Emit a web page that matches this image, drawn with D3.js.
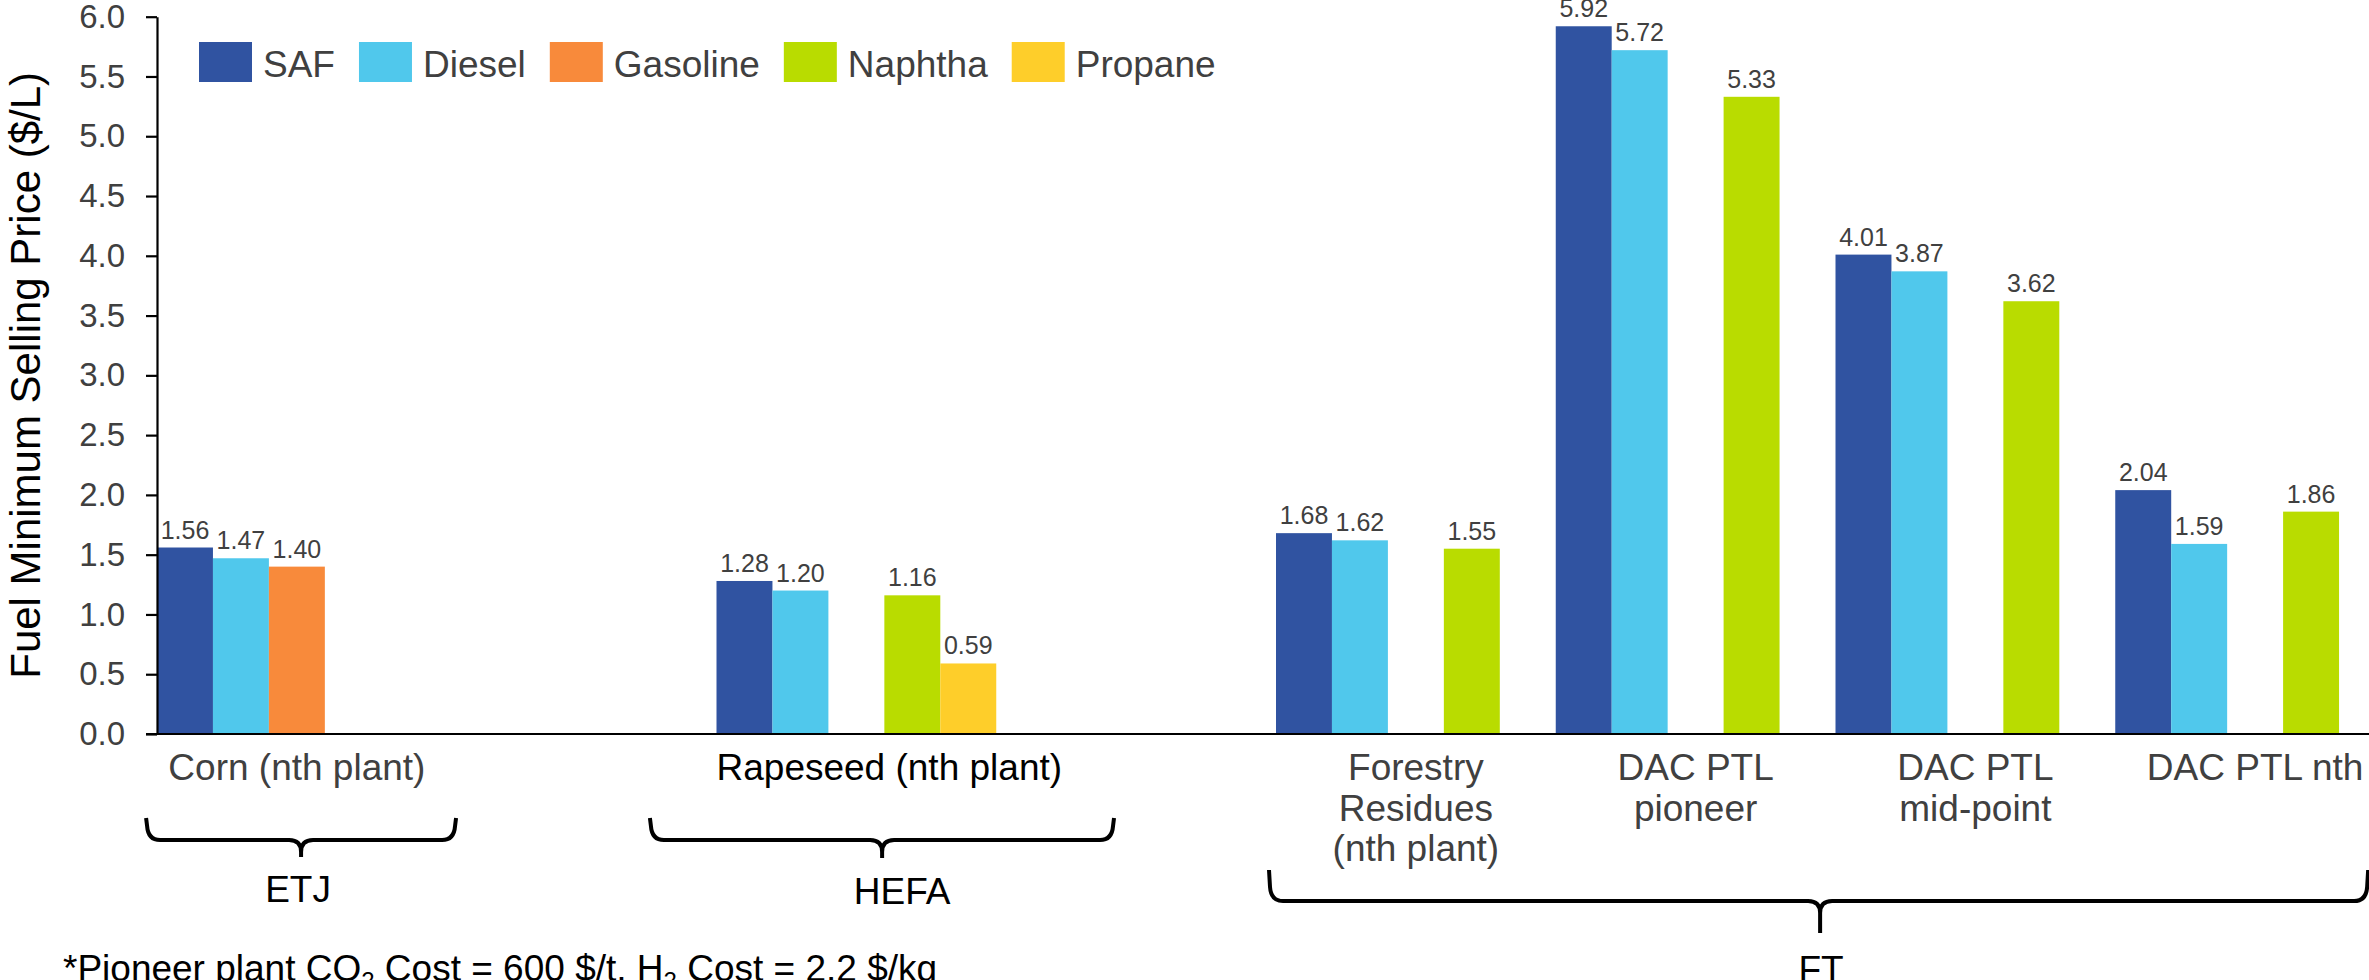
<!DOCTYPE html>
<html>
<head>
<meta charset="utf-8">
<script src="https://cdn.jsdelivr.net/npm/d3@7"></script>
<style>
  html, body { margin: 0; padding: 0; background: #fff; overflow: hidden; }
  svg { display: block; font-family: Arial, "Liberation Sans", sans-serif; }
</style>
</head>
<body>
<svg id="chart" width="2369" height="980"></svg>
<script>
// ---- data ----
const categories = ["Corn (nth plant)", "spacer-1", "Rapeseed (nth plant)", "spacer-2",
  "Forestry Residues (nth plant)", "DAC PTL pioneer", "DAC PTL mid-point", "DAC PTL nth"];
const categoryLines = [["Corn (nth plant)"], [], ["Rapeseed (nth plant)"], [],
  ["Forestry", "Residues", "(nth plant)"], ["DAC PTL", "pioneer"], ["DAC PTL", "mid-point"], ["DAC PTL nth"]];
const seriesNames = ["SAF", "Diesel", "Gasoline", "Naphtha", "Propane"];
const safValues      = [1.56, null, 1.28, null, 1.68, 5.92, 4.01, 2.04];
const dieselValues   = [1.47, null, 1.20, null, 1.62, 5.72, 3.87, 1.59];
const gasolineValues = [1.40, null, null, null, null, null, null, null];
const naphthaValues  = [null, null, 1.16, null, 1.55, 5.33, 3.62, 1.86];
const propaneValues  = [null, null, 0.59, null, null, null, null, null];
const yTicks = [0, 0.5, 1.0, 1.5, 2.0, 2.5, 3.0, 3.5, 4.0, 4.5, 5.0, 5.5, 6.0];
const groupNames = ["ETJ", "HEFA", "FT"];
const yTitle = "Fuel Minimum Selling Price ($/L)";

// ---- styles ----
const seriesColors = ["#3053A1", "#50C8EC", "#F88A3B", "#B9DC00", "#FECE2A"];
const textGray = "#404040";

const seriesValues = [safValues, dieselValues, gasolineValues, naphthaValues, propaneValues];
const barData = [];
seriesNames.forEach((s, si) => {
  seriesValues[si].forEach((v, ci) => {
    if (v != null) barData.push({ series: s, category: categories[ci], value: v, color: seriesColors[si] });
  });
});

const svg = d3.select("#chart");

const x = d3.scaleBand().domain(categories).range([157, 2395]).paddingInner(0).paddingOuter(0);
const xs = d3.scaleBand().domain(seriesNames).range([0, x.bandwidth()]).padding(0);
const y = d3.scaleLinear().domain([0, 6]).range([734, 16.7]);

// bars
svg.append("g").selectAll("rect").data(barData).join("rect")
  .attr("x", d => x(d.category) + xs(d.series))
  .attr("y", d => y(d.value))
  .attr("width", xs.bandwidth())
  .attr("height", d => y(0) - y(d.value))
  .attr("fill", d => d.color);

// value labels
svg.append("g").selectAll("text").data(barData).join("text")
  .attr("x", d => x(d.category) + xs(d.series) + xs.bandwidth() / 2)
  .attr("y", d => y(d.value) - 9)
  .attr("text-anchor", "middle")
  .attr("font-size", 25)
  .attr("fill", textGray)
  .text(d => d3.format(".2f")(d.value));

// y axis
const yAxis = svg.append("g")
  .attr("transform", `translate(${x.range()[0]},0)`)
  .call(d3.axisLeft(y).tickValues(yTicks).tickFormat(d3.format(".1f"))
    .tickSize(11).tickSizeOuter(0).tickPadding(21));
yAxis.select(".domain").attr("stroke", "#000").attr("stroke-width", 2.2);
yAxis.selectAll(".tick line").attr("stroke", "#000").attr("stroke-width", 2.2);
yAxis.selectAll(".tick text").attr("font-size", 33).attr("fill", textGray)
  .attr("font-family", "Arial, 'Liberation Sans', sans-serif");

// x axis baseline
svg.append("line")
  .attr("x1", x.range()[0] - 11).attr("x2", 2369)
  .attr("y1", y(0)).attr("y2", y(0))
  .attr("stroke", "#000").attr("stroke-width", 2.2);

// category labels
const catG = svg.append("g").attr("font-size", 37);
categories.forEach((c, i) => {
  const lines = categoryLines[i];
  if (!lines.length) return;
  const leftAligned = c === "Rapeseed (nth plant)";
  const t = catG.append("text")
    .attr("text-anchor", leftAligned ? "start" : "middle")
    .attr("fill", leftAligned ? "#000" : textGray);
  lines.forEach((ln, li) => {
    t.append("tspan")
      .attr("x", leftAligned ? x(c) : x(c) + x.bandwidth() / 2)
      .attr("y", y(0) + 46 + li * 40.5)
      .text(ln);
  });
});

// y axis title
svg.append("text")
  .attr("transform", `translate(40,${(y(0) + y(6)) / 2}) rotate(-90)`)
  .attr("text-anchor", "middle")
  .attr("font-size", 42)
  .attr("fill", "#000")
  .text(yTitle);

// legend
const legend = svg.append("g");
let lx = 199;
seriesNames.forEach((s, i) => {
  legend.append("rect").attr("x", lx).attr("y", 42).attr("width", 53).attr("height", 40)
    .attr("fill", seriesColors[i]);
  const t = legend.append("text").attr("x", lx + 64).attr("y", 77)
    .attr("font-size", 37).attr("fill", textGray).text(s);
  lx = lx + 64 + t.node().getComputedTextLength() + 24;
});

// process group braces, spans given in band steps from the left of the category range
const braceSpans = [
  { left: -0.039, tip: 0.515, right: 1.069, top: 818, mid: 840, bottom: 857, labelDx: -3, labelY: 902 },
  { left: 1.762, tip: 2.592, right: 3.421, top: 818, mid: 840, bottom: 858, labelDx: 20, labelY: 904 },
  { left: 3.975, tip: 5.945, right: 7.904, top: 870, mid: 901, bottom: 933, labelDx: 1, labelY: 982 }
];
const bx = u => x.range()[0] + u * x.step();
const braceG = svg.append("g");
groupNames.forEach((g, i) => {
  const b = braceSpans[i];
  const x0 = bx(b.left), x1 = bx(b.right), xt = bx(b.tip);
  const r = 14, rt = 12;
  const p = d3.path();
  p.moveTo(x0, b.top);
  p.lineTo(x0 + 1, b.mid - r);
  p.quadraticCurveTo(x0 + 2, b.mid, x0 + r, b.mid);
  p.lineTo(xt - rt, b.mid);
  p.quadraticCurveTo(xt, b.mid, xt, b.mid + rt);
  p.lineTo(xt, b.bottom);
  p.moveTo(xt, b.mid + rt);
  p.quadraticCurveTo(xt, b.mid, xt + rt, b.mid);
  p.lineTo(x1 - r, b.mid);
  p.quadraticCurveTo(x1 - 2, b.mid, x1 - 1, b.mid - r);
  p.lineTo(x1, b.top);
  braceG.append("path").attr("d", p.toString())
    .attr("fill", "none").attr("stroke", "#000").attr("stroke-width", 4)
    .attr("stroke-linejoin", "round");
  braceG.append("text").attr("x", xt + b.labelDx).attr("y", b.labelY)
    .attr("text-anchor", "middle").attr("font-size", 37).attr("fill", "#000").text(g);
});

// footnote
const fn = svg.append("text").attr("x", 63).attr("y", 981).attr("font-size", 37).attr("fill", "#000");
fn.append("tspan").text("*Pioneer plant CO");
fn.append("tspan").attr("font-size", 24).attr("dy", 8).text("2");
fn.append("tspan").attr("dy", -8).text(" Cost = 600 $/t, H");
fn.append("tspan").attr("font-size", 24).attr("dy", 8).text("2");
fn.append("tspan").attr("dy", -8).text(" Cost = 2.2 $/kg");
</script>
</body>
</html>
